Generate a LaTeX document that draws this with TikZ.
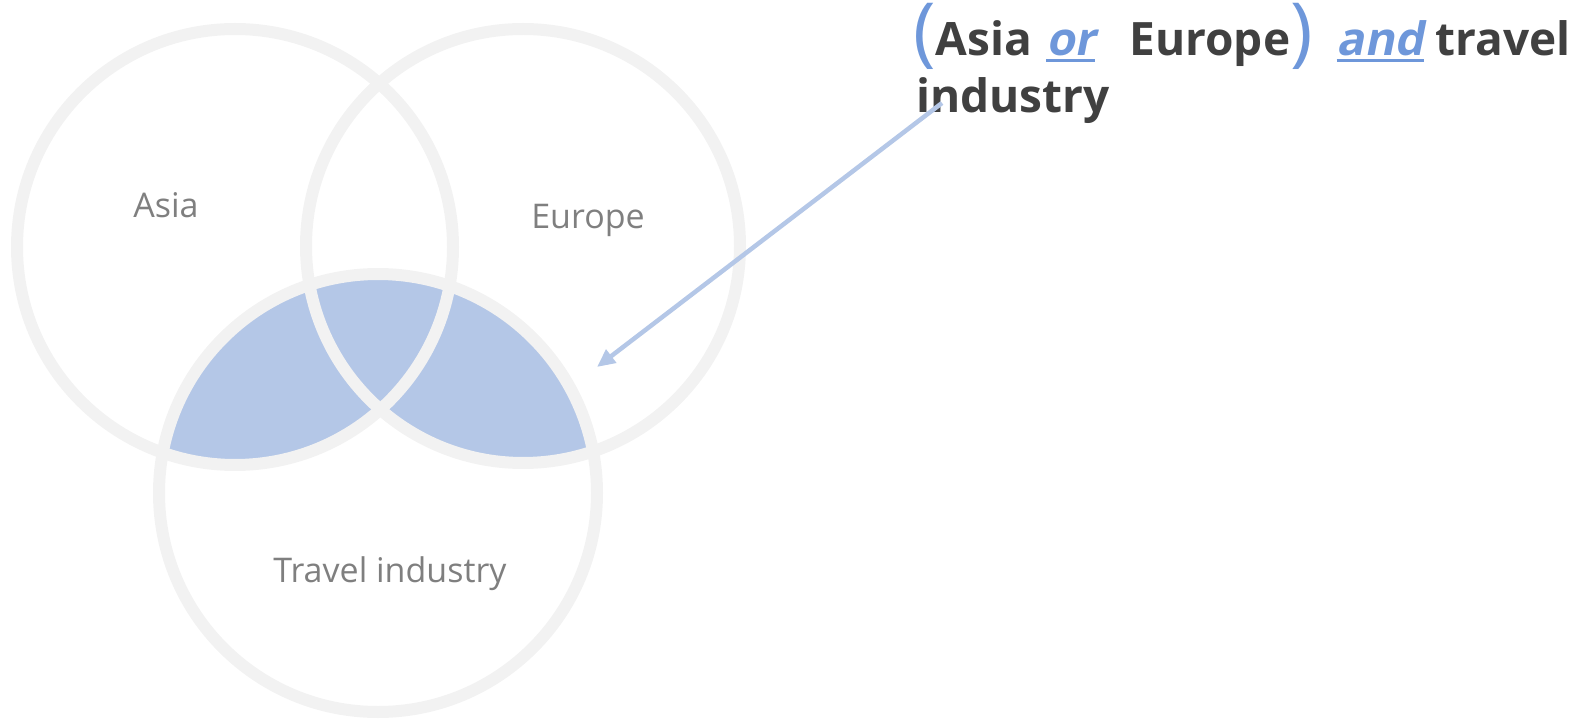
\documentclass[tikz,border=0pt]{standalone}
\usepackage{fontspec}
\setmainfont{Open Sans}
\newfontface\slantbold[FakeSlant=0.2]{Open Sans Bold}
\usetikzlibrary{arrows.meta}
\definecolor{ringgray}{HTML}{F2F2F2}
\definecolor{fillblue}{HTML}{B4C7E7}
\definecolor{textblue}{HTML}{6E97DA}
\definecolor{labelgray}{HTML}{7F7F7F}
\definecolor{titlegray}{HTML}{404040}
\newcommand\myul[1]{\setbox0\hbox{#1}\rlap{\rule[-6pt]{\wd0}{3pt}}\box0}
\newcommand\bigparen[1]{\raisebox{-2pt}{\fontsize{76}{57}\selectfont\mdseries #1}}
\begin{document}
\begin{tikzpicture}[x=1pt,y=-1pt,
  ring/.style={draw=ringgray,line width=12pt},
  lbl/.style={text=labelgray,font=\fontsize{34}{40}\selectfont,inner sep=0pt,anchor=base},
  titletext/.style={text=titlegray,font=\fontsize{46}{57}\selectfont\bfseries,inner sep=0pt,anchor=base west},
  pointer/.style={draw=fillblue,line width=4.5pt,-{Triangle[length=18pt,width=16pt]}}]
\useasboundingbox (0,0) rectangle (1569,719);
\coordinate (asiaC) at (235,247);
\coordinate (europeC) at (523,246);
\coordinate (travelC) at (378,493);
% filled region (Asia or Europe) and Travel
\begin{scope}
  \clip (travelC) circle[radius=219];
  \fill[fillblue] (asiaC) circle[radius=218];
  \fill[fillblue] (europeC) circle[radius=217];
\end{scope}
\draw[ring] (asiaC) circle[radius=218];
\draw[ring] (europeC) circle[radius=217];
\draw[ring] (travelC) circle[radius=219];
\node[lbl] (asia) at (166,218) {Asia};
\node[lbl] (europe) at (588,229) {Europe};
\node[lbl] (travel) at (390,582) {Travel industry};
\node[titletext] (title1) at (913,56) {{\color{textblue}\bigparen{(}}Asia\hspace{14pt}{\color{textblue}\myul{\slantbold or}}\hspace{34pt}Europe{\color{textblue}\bigparen{)}}\ \ {\color{textblue}\myul{\slantbold and}} travel};
\node[titletext] (title2) at (916,113) {industry};
\coordinate (arrowstart) at (942,103);
\coordinate (arrowtip) at (597,367);
\draw[pointer] (arrowstart) -- (arrowtip);
\end{tikzpicture}
\end{document}
